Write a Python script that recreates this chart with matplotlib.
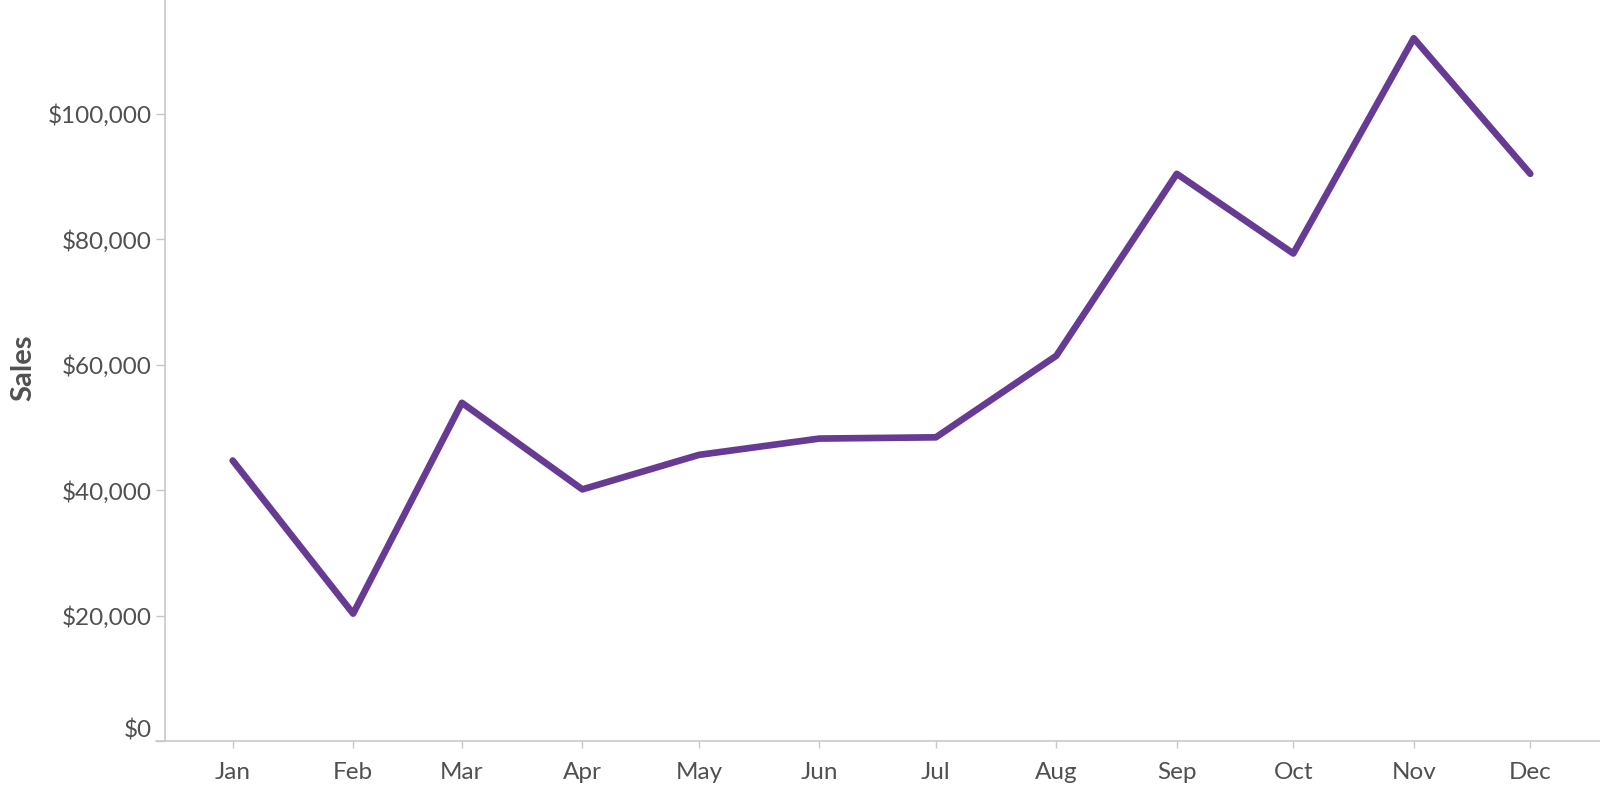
import datetime as dt
import matplotlib
matplotlib.use("Agg")
import matplotlib.pyplot as plt
import matplotlib.dates as mdates

# data
months = ["Jan", "Feb", "Mar", "Apr", "May", "Jun",
          "Jul", "Aug", "Sep", "Oct", "Nov", "Dec"]
sales = [44700, 20300, 53900, 40100, 45600, 48200,
         48400, 61400, 90400, 77700, 112000, 90400]
ytick_vals = [0, 20000, 40000, 60000, 80000, 100000]
ytick_labels = ["$0", "$20,000", "$40,000", "$60,000", "$80,000", "$100,000"]

dates = [dt.date(2019, i + 1, 1) for i in range(12)]

plt.rcParams['font.family'] = ['Lato', 'DejaVu Sans']

fig = plt.figure(figsize=(16, 7.96), dpi=100)
W, H = 1600, 796
ax = fig.add_axes([156 / W, (H - 741) / H, (W - 156) / W, 741 / H])

ax.plot(dates, sales, color="#673a93", lw=4.8,
        solid_capstyle="round", solid_joinstyle="round")

x0 = mdates.date2num(dt.date(2019, 1, 1)) - 19.74
x1 = mdates.date2num(dt.date(2019, 12, 1)) + 17.94
ax.set_xlim(x0, x1)
ax.set_ylim(0, 118100)

ax.set_xticks(dates)
ax.set_xticklabels(months)
ax.set_yticks(ytick_vals)
ax.set_yticklabels(ytick_labels)

for s in ["top", "right"]:
    ax.spines[s].set_visible(False)
ax.spines["left"].set_position(("axes", 9 / (W - 156)))
for s in ["left", "bottom"]:
    ax.spines[s].set_color("#c8c8c8")
    ax.spines[s].set_linewidth(1.2)

ax.tick_params(axis="y", length=6.5, width=1, color="#c8c8c8",
               labelsize=17.5, labelcolor="#505050", pad=3)
ax.tick_params(axis="x", length=5, width=1, color="#c8c8c8",
               labelsize=17.5, labelcolor="#505050", pad=10)

# bottom label sits flush above the axis
ax.get_yticklabels()[0].set_verticalalignment("bottom")

fig.text(23 / W, 1 - 368 / H, "Sales", rotation=90, ha="center", va="center",
         fontsize=21, fontweight="bold", color="#505050")

fig.savefig("out.png", dpi=100)
